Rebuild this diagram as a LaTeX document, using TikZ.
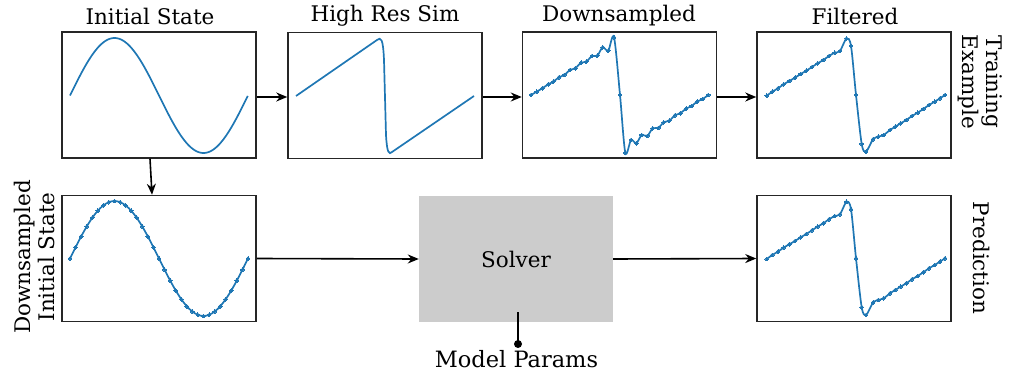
\documentclass[tikz,border=0pt]{standalone}
\usepackage{fontspec}
\setmainfont{DejaVu Serif}
\usetikzlibrary{arrows.meta}
\definecolor{mplblue}{HTML}{1F77B4}
\definecolor{solvergray}{HTML}{CCCCCC}
\begin{document}
\begin{tikzpicture}[x=1pt,y=-1pt,
  plotbox/.style={draw=black!85,line width=1.5pt,minimum width=194pt,minimum height=126pt,inner sep=0pt},
  curve/.style={mplblue,line width=1.7pt},
  dotcurve/.style={mplblue,line width=1.7pt,mark=*,mark size=1.9pt,mark options={fill=mplblue,draw=mplblue,line width=0pt}},
  arr/.style={line width=1.6pt,-{Stealth[length=11pt,width=9pt]}},
  lbl/.style={font=\fontsize{21.5}{24}\selectfont,inner sep=0pt,align=center},
  mplbl/.style={font=\fontsize{22.5}{25}\selectfont,inner sep=0pt,text depth=0pt}]
\useasboundingbox (0,0) rectangle (1011,374);

% boxes
\node[plotbox] (init) at (159,95) {};
\node[plotbox] (hires) at (385,95.5) {};
\node[plotbox] (down) at (619.5,95) {};
\node[plotbox] (filt) at (854,95) {};
\node[plotbox] (dsinit) at (159,258.5) {};
\node[fill=solvergray,minimum width=194pt,minimum height=126pt,inner sep=0pt,lbl] (solver) at (516,259) {Solver};
\node[plotbox] (pred) at (854,258.5) {};

% titles
\node[lbl] (t1) at (150,16) {Initial State};
\node[lbl] (t2) at (385,16) {High Res Sim};
\node[lbl] (t3) at (619,16) {Downsampled};
\node[lbl] (t4) at (855,16) {Filtered};
\node[lbl,rotate=-90] (t5) at (980,82) {Training\\Example};
\node[lbl,rotate=-90] (t6) at (982,258) {Prediction};
\node[lbl,rotate=90] (t7) at (34,257) {Downsampled\\Initial State};
\node[mplbl,anchor=base] (mp) at (516.5,367) {Model Params};

% curves
\draw[curve] plot[domain=0:1,samples=120,smooth] ({70+178*\x},{95.5-57.5*sin(360*\x)});
\draw[curve] (296,96) -- (377,40) .. controls (381,37) and (383,38) .. (384,60) -- (386,135) .. controls (387,153) and (389,155) .. (392,152) -- (474,96);
\draw[dotcurve] plot[smooth,tension=0.5] coordinates {(531,95) (536.7,91.7) (542.3,88.3) (548.3,84.3) (553.3,81.7) (559,77.3) (564.3,75) (570,70) (575.3,68.3) (581,62.7) (586.3,61.7) (592,56) (597.3,55.7) (602.7,47.3) (608.3,50.7) (614,37.3) (620,95) (625.3,152.7) (631,140) (636.3,143.3) (641.7,135) (647.3,136) (652.7,128.3) (658.3,128) (663.7,122.3) (669.3,120.7) (675,115.3) (680.3,113.3) (686,108.7) (691.7,106) (697,101.7) (702.7,99) (708.3,95)};
\foreach \dy/\nm in {0/a,163.3/b}{
\draw[dotcurve] plot[smooth,tension=0.5] coordinates {(766.7,95.7+\dy) (772.3,91.7+\dy) (778,88.3+\dy) (783.7,84.3+\dy) (789.3,81+\dy) (795,77.7+\dy) (800.7,74+\dy) (806.3,70.7+\dy) (812,67+\dy) (817.7,63.3+\dy) (823.3,60+\dy) (829,56+\dy) (834.7,52.7+\dy) (840,51+\dy) (846.5,38.5+\dy) (851,46+\dy) (856,95+\dy) (861.7,144+\dy) (866,151.7+\dy) (873,139.3+\dy) (878.3,136.7+\dy) (883.7,135+\dy) (890,130+\dy) (895.3,126.7+\dy) (900.7,123.3+\dy) (906.3,120+\dy) (912,116+\dy) (917.7,112.7+\dy) (923.3,109+\dy) (929,105+\dy) (934.7,101.7+\dy) (940,98.3+\dy) (945,95+\dy)};
}
\draw[dotcurve] plot[domain=0:1,samples=33,smooth] ({70+178*\x},{258.5-57.5*sin(360*\x)});

% connectors
\draw[arr] (init.east |- 0,97) -- (hires.west |- 0,97);
\draw[arr] (hires.east |- 0,97) -- (down.west |- 0,97);
\draw[arr] (down.east |- 0,97) -- (filt.west |- 0,97);
\draw[arr] ([xshift=-9pt]init.south) -- ([xshift=-7pt]dsinit.north);
\draw[arr] (dsinit.east) -- (solver.west);
\draw[arr] (solver.east) -- (pred.west);
\coordinate (mpdot) at (518,344);
\draw[line width=1.6pt] ([shift={(2,-10)}]solver.south) -- (mpdot);
\fill (mpdot) circle (4pt);
\end{tikzpicture}
\end{document}
